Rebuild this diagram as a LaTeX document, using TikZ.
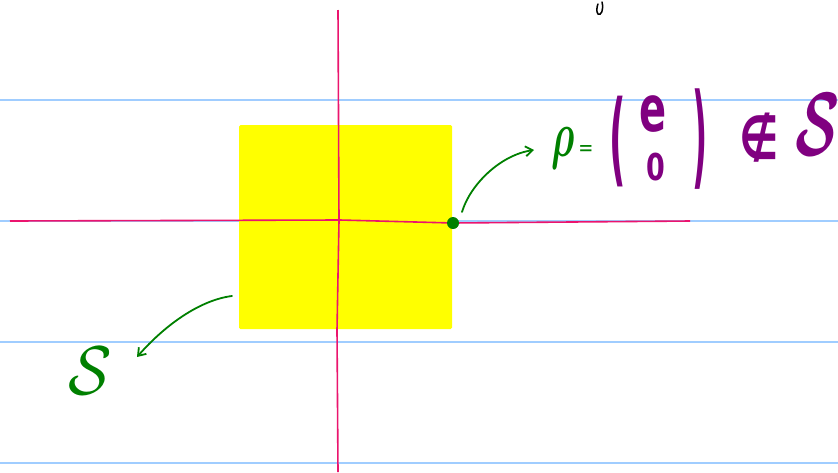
\documentclass[tikz,border=0pt]{standalone}
\usepackage{amsmath}
\usepackage{fontspec}
\newfontfamily\handfont{DejaVu Sans}
\usetikzlibrary{arrows.meta}
\definecolor{ruleblue}{RGB}{160,205,255}
\definecolor{axispink}{RGB}{235,20,110}
\definecolor{penyellow}{RGB}{255,255,0}
\definecolor{pengreen}{RGB}{0,128,0}
\definecolor{penpurple}{RGB}{128,0,128}
\tikzset{
  rule/.style={ruleblue, line width=1.2pt},
  axis/.style={axispink, line width=1.6pt},
  greenpen/.style={pengreen, line width=1.8pt, line cap=round},
  arrowpen/.style={greenpen, -{Straight Barb[length=7pt,width=10pt]}},
  ink/.style={inner sep=0pt, outer sep=0pt},
}
\begin{document}
\begin{tikzpicture}[x=1pt,y=-1pt]
\useasboundingbox (0,0) rectangle (838,472);
\fill[white] (0,0) rectangle (838,472);
% ruled lines
\foreach \yy/\nm in {100/r1,221/r2,342/r3,463/r4}
  \draw[rule] (0,\yy) coordinate (\nm a) -- (838,\yy) coordinate (\nm b);
% yellow square S
\node[fill=penyellow, rounded corners=1.5pt, minimum width=213pt, minimum height=204pt, inner sep=0pt] (sq) at (345.5,227) {};
% axes
\coordinate (xl) at (10,221);
\coordinate (xr) at (690,221);
\coordinate (yt) at (338,10);
\coordinate (yb) at (338,472);
\draw[axis] (xl) -- (340,220) -- (453,223) -- (xr);
\draw[axis] (yt) -- (339,221) -- (337,330) -- (yb);
% point rho
\node[circle, fill=pengreen, minimum size=12pt, inner sep=0pt] (pt) at (453,223) {};
% label rho
\node[ink, pengreen, xscale=3.8, yscale=6.5] (rho) at (563,148) {$\boldsymbol{\rho}$};
\node[ink, pengreen, xscale=1.8, yscale=2.2] (eq) at (586,151) {\handfont =};
\node[ink, penpurple, xscale=3.6, yscale=10.2] (lp) at (618,142) {\handfont\bfseries (};
\node[ink, penpurple, xscale=4, yscale=6.4] (ent1) at (653,114) {\handfont\bfseries e};
\node[ink, penpurple, xscale=2.7, yscale=3.7] (ent2) at (656,167) {\handfont\bfseries 0};
\node[ink, penpurple, xscale=3.3, yscale=11.3] (rp) at (700,139) {\handfont\bfseries )};
\node[ink, penpurple, xscale=4.4, yscale=6] (notin) at (759,138) {\handfont\bfseries ∉};
\node[ink, penpurple, xscale=5.8, yscale=9] (Sbig) at (818,125) {$\boldsymbol{\mathcal{S}}$};
% label S
\node[ink, pengreen, xscale=6.4, yscale=6.9] (Slab) at (90,371) {$\mathcal{S}$};
% arrows
\coordinate (a1s) at (462,212);
\coordinate (a1e) at (534,150);
\draw[arrowpen] (a1s) .. controls (470,185) and (500,155) .. (a1e);
\coordinate (a2s) at (232,296);
\coordinate (a2e) at (137,357);
\draw[arrowpen] (a2s) .. controls (200,300) and (165,325) .. (a2e);
% small black mark at top
\draw[black, line width=1.5pt, line cap=round] (602,2) .. controls (604,10) and (601,16) .. (598,14) .. controls (596,12) and (597,6) .. (598,4);
\end{tikzpicture}
\end{document}
